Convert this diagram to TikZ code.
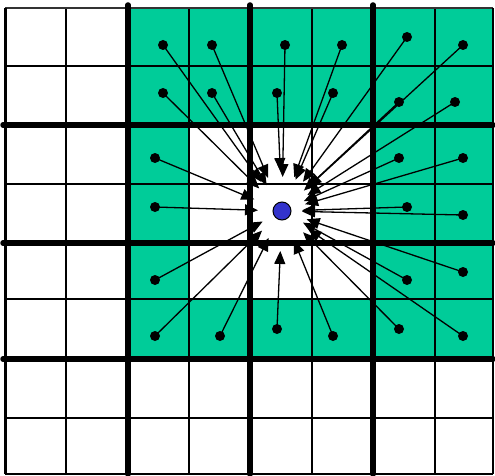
\documentclass[tikz,border=0pt]{standalone}
\usetikzlibrary{arrows.meta,calc}
\definecolor{cellgreen}{RGB}{0,204,153}
\definecolor{dotblue}{RGB}{51,51,204}
\begin{document}
\begin{tikzpicture}[x=1pt,y=-1pt,
  thingrid/.style={line width=1.5pt},
  thickgrid/.style={line width=5.5pt,line cap=round},
  ray/.style={line width=1.3pt,-{Triangle[length=13pt,width=11pt]}},
  src/.style={circle,fill=black,inner sep=0pt,minimum size=10pt},
  target/.style={circle,fill=dotblue,draw=black,line width=1pt,minimum size=18pt,inner sep=0pt}]
\useasboundingbox (0,0) rectangle (495,476);
% coloured cells
\fill[cellgreen] (128,8) rectangle (493,359);
\fill[white] (189,125) rectangle (373,299);
% thin grid lines
\foreach \x in {66,189,312,435} \draw[thingrid] (\x,8) -- (\x,474);
\foreach \y in {66,184,299,418} \draw[thingrid] (5,\y) -- (493,\y);
% outer border
\draw[line width=1.3pt,black!80] (5,8) -- (493,8);
\draw[line width=1.5pt] (493,8) -- (493,474);
\draw[line width=2.5pt] (5,474) -- (493,474);
\draw[line width=3pt] (5,8) -- (5,474);
% thick grid lines
\foreach \x in {128,250,373} \draw[thickgrid] (\x,5) -- (\x,474);
\foreach \y in {125,243,359} \draw[thickgrid] (3,\y) -- (493,\y);
% target
\node[target] (c) at (282,211) {};
% sources and rays
\foreach \n/\x/\y/\r in {
  a/163/45/36, b/212/45/36, d/285/45/34, e/342/45/36, f/407/37/36, g/463/45/36,
  h/163/93/32, i/212/93/30, j/277/93/40, k/333/93/34, l/399/102/30, m/455/102/30,
  n/155/158/30, o/399/158/24, p/463/158/24,
  q/155/207/24, r/407/207/20, s/463/215/20,
  t/155/280/22, u/407/280/24, v/463/272/26,
  w/155/336/28, x/220/336/30, y/277/329/40, z/333/336/32, aa/399/329/30, ab/463/336/32}
{
  \node[src] (s\n) at (\x,\y) {};
  \draw[ray] (s\n.center) -- ($(c.center)!\r pt!(s\n.center)$);
}
\end{tikzpicture}
\end{document}
